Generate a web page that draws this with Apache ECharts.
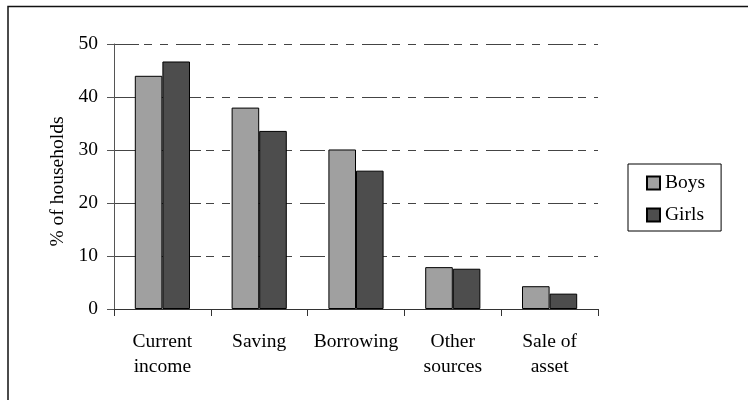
<!DOCTYPE html>
<html>
<head>
<meta charset="utf-8">
<script src="https://cdn.jsdelivr.net/npm/echarts@6/dist/echarts.min.js"></script>
<style>
  html, body { margin: 0; padding: 0; background: #fff; }
  #chart { width: 748px; height: 400px; }
</style>
</head>
<body>
<div id="chart"></div>
<script>
// Sources of funds by sex of child (% of households)
const categories = ['Current\nincome', 'Saving', 'Borrowing', 'Other\nsources', 'Sale of\nasset'];
const boys = [44.0, 38.0, 30.1, 7.9, 4.3];
const girls = [46.7, 33.6, 26.1, 7.6, 2.9];
const seriesNames = ['Boys', 'Girls'];
const yAxisTitle = '% of households';

const FONT = '"Liberation Serif", "Times New Roman", serif';
const chart = echarts.init(document.getElementById('chart'), null, { renderer: 'canvas' });

chart.setOption({
  animation: false,
  backgroundColor: '#ffffff',
  textStyle: { fontFamily: FONT, color: '#000' },
  grid: { left: 114, right: 150, top: 44, bottom: 91, containLabel: false },
  legend: {
    orient: 'vertical',
    left: 628,
    top: 164,
    padding: [9, 16, 6, 18],
    itemGap: 12,
    itemWidth: 13,
    itemHeight: 13,
    itemTextGap: 8,
    icon: 'rect',
    borderColor: '#000',
    borderWidth: 1,
    textStyle: { fontFamily: FONT, fontSize: 19.5, color: '#000', lineHeight: 20 },
    data: seriesNames
  },
  xAxis: {
    type: 'category',
    data: categories,
    axisLine: { lineStyle: { color: '#333', width: 1 } },
    axisTick: { show: true, length: 7, lineStyle: { color: '#333' } },
    axisLabel: {
      fontFamily: FONT,
      fontSize: 19.5,
      lineHeight: 25,
      color: '#000',
      margin: 20,
      interval: 0
    }
  },
  yAxis: {
    type: 'value',
    min: 0,
    max: 50,
    interval: 10,
    name: yAxisTitle,
    nameLocation: 'middle',
    nameGap: 46,
    nameRotate: 90,
    nameTextStyle: { fontFamily: FONT, fontSize: 19.5, color: '#000', padding: [0, 10, 0, 0] },
    axisLine: { show: true, lineStyle: { color: '#555', width: 1 } },
    axisTick: { show: true, length: 7, lineStyle: { color: '#555' } },
    axisLabel: { fontFamily: FONT, fontSize: 19.5, color: '#000', margin: 16 },
    splitLine: {
      show: true,
      lineStyle: { color: '#444', width: 1, type: [25, 5, 8, 8, 8, 8] }
    }
  },
  series: [
    {
      name: seriesNames[0],
      type: 'bar',
      data: boys,
      barGap: '0%',
      barCategoryGap: '43%',
      itemStyle: { color: '#a0a0a0', borderColor: '#000', borderWidth: 1 }
    },
    {
      name: seriesNames[1],
      type: 'bar',
      data: girls,
      barGap: '0%',
      barCategoryGap: '43%',
      itemStyle: { color: '#4d4d4d', borderColor: '#000', borderWidth: 1 }
    }
  ],
  graphic: [
    {
      type: 'rect',
      silent: true,
      shape: { x: 8, y: 6.5, width: 800, height: 500 },
      style: { fill: 'none', stroke: '#111', lineWidth: 1.5 }
    }
  ]
});
</script>
</body>
</html>
